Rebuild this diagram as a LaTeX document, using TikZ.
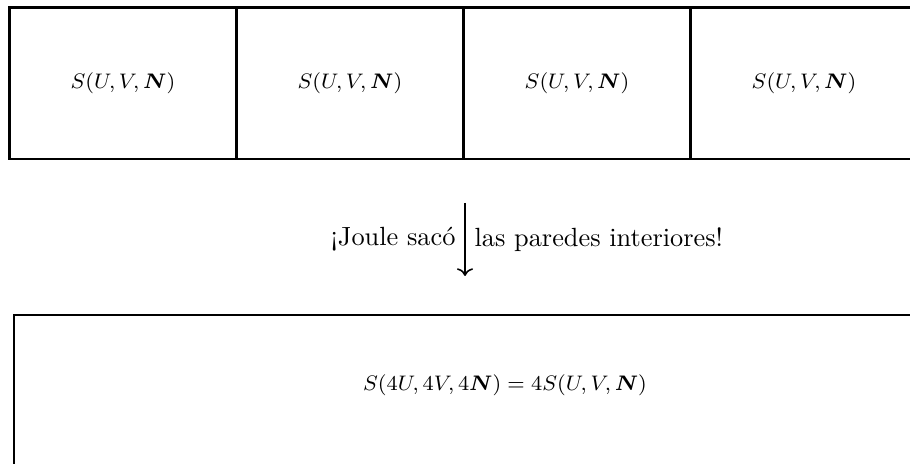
\documentclass[tikz,border=0pt]{standalone}
\usepackage{amsmath}
\usepackage{tikz}
\usetikzlibrary{arrows.meta,positioning}

\begin{document}
\begin{tikzpicture}[x=0.38pt,y=-0.38pt,>=To]
  \tikzset{celda/.style={draw,thick,minimum width=86.26pt,minimum height=57.57pt,inner sep=0pt,font=\footnotesize}}
  \useasboundingbox (0,0) rectangle (910,464);
  \clip (0,0) rectangle (910,464);
  % subsistemas separados
  \foreach \i in {0,...,3}
    \node[celda] (c\i) at (123+227*\i,83.25) {$S(U,V,\boldsymbol{N})$};
  % sistema sin paredes
  \draw[thick] (14,314.7) rectangle (1000,500);
  \node[font=\footnotesize] (total) at (505,385) {$S(4U,4V,4\boldsymbol{N}) = 4S(U,V,\boldsymbol{N})$};
  \coordinate (ini) at (465,203);
  \coordinate (fin) at (465,276);
  \draw[->,semithick] (ini) -- node[left]{¡Joule sacó} node[right]{las paredes interiores!} (fin);
\end{tikzpicture}
\end{document}
